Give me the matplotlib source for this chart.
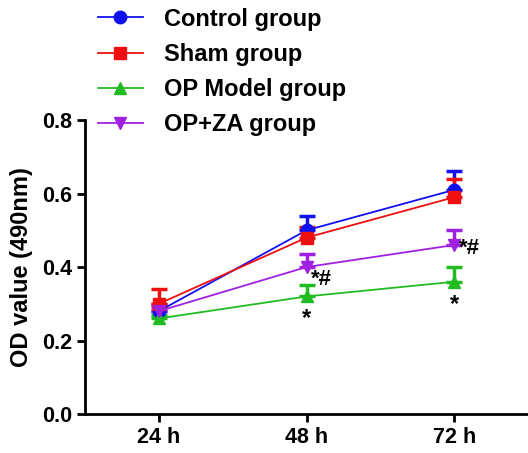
import numpy as np
import matplotlib.pyplot as plt

plt.rcParams['font.family'] = 'Liberation Sans'
plt.rcParams['font.weight'] = 'bold'

# Dados
tempos = ['24 h', '48 h', '72 h']
grupos = ['Control group', 'Sham group', 'OP Model group', 'OP+ZA group']
control = [0.28, 0.50, 0.61]
control_err = [0.02, 0.04, 0.05]
sham = [0.30, 0.48, 0.59]
sham_err = [0.04, 0.03, 0.05]
op_model = [0.26, 0.32, 0.36]
op_model_err = [0.01, 0.03, 0.04]
op_za = [0.28, 0.40, 0.46]
op_za_err = [0.01, 0.035, 0.04]

cores = ['#1010ee', '#ee1010', '#22bb22', '#a020e0']
marcadores = ['o', 's', '^', 'v']
series = [control, sham, op_model, op_za]
erros = [control_err, sham_err, op_model_err, op_za_err]

fig = plt.figure(figsize=(5.28, 4.53), dpi=100)
ax = fig.add_axes([0.161, 0.086, 0.839, 0.649])

x = np.arange(len(tempos))
handles = []
for vals, err, cor, mk, nome in zip(series, erros, cores, marcadores, grupos):
    ax.errorbar(x, vals, yerr=[np.zeros(len(err)), err], fmt='none',
                ecolor=cor, elinewidth=2.5, capsize=6, capthick=2.5, zorder=2)
    h, = ax.plot(x, vals, color=cor, marker=mk, markersize=9, linewidth=1.3,
                 label=nome, zorder=3)
    handles.append(h)

# Significância
ax.text(1, op_model[1] - 0.03, '*', ha='center', va='top', fontsize=17)
ax.text(2, op_model[2] - 0.03, '*', ha='center', va='top', fontsize=17)
ax.text(1.03, op_za[1] - 0.005, '*#', ha='left', va='top', fontsize=16)
ax.text(2.03, op_za[2] + 0.02, '*#', ha='left', va='top', fontsize=16)

ax.set_xlim(-0.5, 2.5)
ax.set_ylim(0, 0.8)
ax.set_xticks(x)
ax.set_xticklabels(tempos)
ax.set_yticks([0.0, 0.2, 0.4, 0.6, 0.8])
ax.set_yticklabels(['0.0', '0.2', '0.4', '0.6', '0.8'])
ax.tick_params(labelsize=15.5, width=2, length=6)
ax.set_ylabel('OD value (490nm)', fontsize=17, fontweight='bold', labelpad=6)
for s in ['top', 'right']:
    ax.spines[s].set_visible(False)
for s in ['left', 'bottom']:
    ax.spines[s].set_linewidth(2)

fig.legend(handles=handles, loc='upper left', bbox_to_anchor=(0.145, 1.03),
           frameon=False, fontsize=17, handlelength=1.9, labelspacing=0.52,
           handletextpad=0.9)

plt.savefig('out.png', dpi=100)
